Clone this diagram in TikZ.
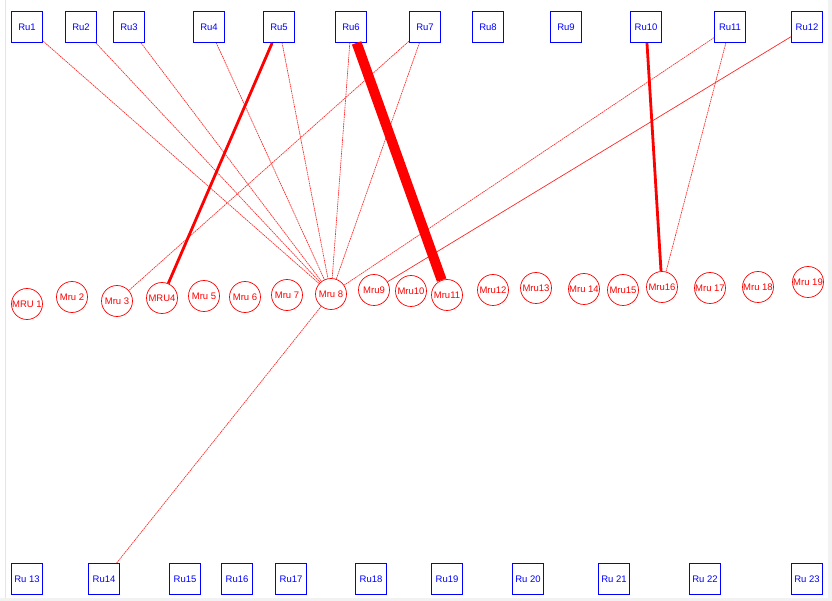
\documentclass[tikz,border=0pt]{standalone}
\usepackage{fontspec}
\setmainfont{Liberation Sans}
\begin{document}
\begin{tikzpicture}[x=1pt,y=-1pt,
  rubox/.style={draw=blue, text=blue, minimum size=31pt, inner sep=0pt, line width=0.8pt, font=\fontsize{9.5}{10}\selectfont},
  mru/.style={circle, draw=red, text=red, minimum size=31pt, inner sep=0pt, line width=0.7pt, font=\fontsize{9.5}{10}\selectfont},
  weak/.style={red!85, line width=0.65pt, dash pattern=on 1.6pt off 0.7pt},
  plain/.style={red!85, line width=0.7pt},
  strong/.style={red, line width=2.8pt},
  heavy/.style={red, line width=10pt}]
\useasboundingbox (0,0) rectangle (832,601);
\fill[white] (0,0) rectangle (832,601);
\fill[gray!10] (828,0) rectangle (832,601);
\fill[gray!10] (0,598) rectangle (832,601);
\draw[gray!20, line width=0.8pt] (5,0) -- (5,598);
% top row
\node[rubox] (ru1) at (27,27) {Ru1};
\node[rubox] (ru2) at (81,27) {Ru2};
\node[rubox] (ru3) at (129,27) {Ru3};
\node[rubox] (ru4) at (209,27) {Ru4};
\node[rubox] (ru5) at (279,27) {Ru5};
\node[rubox] (ru6) at (351,27) {Ru6};
\node[rubox] (ru7) at (425,27) {Ru7};
\node[rubox] (ru8) at (488,27) {Ru8};
\node[rubox] (ru9) at (566,27) {Ru9};
\node[rubox] (ru10) at (646,27) {Ru10};
\node[rubox] (ru11) at (730,27) {Ru11};
\node[rubox] (ru12) at (807,27) {Ru12};
% bottom row
\node[rubox] (ru13) at (27,579) {Ru 13};
\node[rubox] (ru14) at (104,579) {Ru14};
\node[rubox] (ru15) at (185,579) {Ru15};
\node[rubox] (ru16) at (237,579) {Ru16};
\node[rubox] (ru17) at (291,579) {Ru17};
\node[rubox] (ru18) at (371,579) {Ru18};
\node[rubox] (ru19) at (447,579) {Ru19};
\node[rubox] (ru20) at (528,579) {Ru 20};
\node[rubox] (ru21) at (614,579) {Ru 21};
\node[rubox] (ru22) at (705,579) {Ru 22};
\node[rubox] (ru23) at (807,579) {Ru 23};
% middle row
\node[mru] (m1) at (27,304) {MRU 1};
\node[mru] (m2) at (72,297) {Mru 2};
\node[mru] (m3) at (117,301) {Mru 3};
\node[mru] (m4) at (162,298) {MRU4};
\node[mru] (m5) at (204,296) {Mru 5};
\node[mru] (m6) at (245,297) {Mru 6};
\node[mru] (m7) at (287,295) {Mru 7};
\node[mru] (m8) at (331,294) {Mru 8};
\node[mru] (m9) at (374,290) {Mru9};
\node[mru] (m10) at (411,291) {Mru10};
\node[mru] (m11) at (447,295) {Mru11};
\node[mru] (m12) at (493,290) {Mru12};
\node[mru] (m13) at (536,288) {Mru13};
\node[mru] (m14) at (584,289) {Mru 14};
\node[mru] (m15) at (623,290) {Mru15};
\node[mru] (m16) at (662,287) {Mru16};
\node[mru] (m17) at (710,288) {Mru 17};
\node[mru] (m18) at (758,287) {Mru 18};
\node[mru] (m19) at (808,282) {Mru 19};
% connectors
\draw[weak] (ru1) -- (m8);
\draw[weak] (ru2) -- (m8);
\draw[weak] (ru3) -- (m8);
\draw[weak] (ru4) -- (m8);
\draw[weak] (ru5) -- (m8);
\draw[weak] (ru6) -- (m8);
\draw[weak] (ru7) -- (m8);
\draw[weak] (ru7) -- (m3);
\draw[weak] (ru11) -- (m8);
\draw[weak] (ru11) -- (m16);
\draw[plain] (ru12) -- (m9);
\draw[weak] (m8) -- (ru14);
\draw[strong] (ru5) -- (m4);
\draw[strong] (ru10) -- (m16);
\draw[heavy] (ru6) -- (m11);
\end{tikzpicture}
\end{document}
